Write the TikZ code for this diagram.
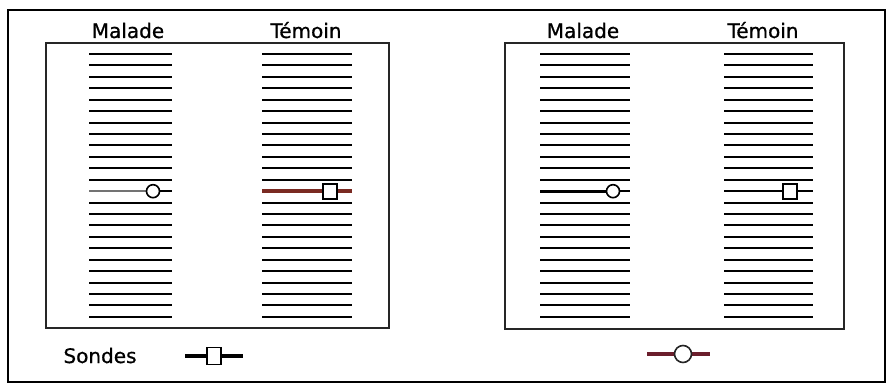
\documentclass[tikz,border=0pt]{standalone}
\usepackage{fontspec}
\setmainfont{DejaVu Sans}
\newfontfamily\lblfont[FakeBold=0.8]{DejaVu Sans}
\definecolor{probered}{HTML}{7A2A22}
\definecolor{legred}{HTML}{6B1E2C}
\tikzset{
  band/.style={line width=2pt, black},
  panel/.style={line width=2pt, draw=black!85},
  frame/.style={line width=2.6pt, draw=black},
  lbl/.style={font=\lblfont\fontsize{20}{22}\selectfont, inner sep=0pt, anchor=base},
  sq/.style={draw=black, line width=1.6pt, fill=white, minimum width=14pt, minimum height=15pt, inner sep=0pt},
  circ/.style={circle, draw=black, line width=1.6pt, fill=white, minimum size=13pt, inner sep=0pt}
}
\begin{document}
\begin{tikzpicture}[x=1pt,y=-1pt]
\useasboundingbox (0,0) rectangle (889,385);
% outer frame
\draw[frame] (8,10) rectangle (885,382);
% panels
\draw[panel] (46,43) rectangle (389,328);
\draw[panel] (505,43) rectangle (844,329);
% labels
\node[lbl] (m1) at (128,38) {Malade};
\node[lbl] (t1) at (306,38) {Témoin};
\node[lbl] (m2) at (583,38) {Malade};
\node[lbl] (t2) at (763,38) {Témoin};
\node[lbl] (so) at (100,363) {Sondes};
% bands
\foreach \xa/\xb in {89/172, 262/352, 540/630, 724/813} {
  \foreach \i in {0,...,23} {
    \ifnum\i=12\else
      \pgfmathsetmacro\yy{54+\i*11.43}
      \draw[band] (\xa,\yy) -- (\xb,\yy);
    \fi
  }
}
% probe row, left panel, Malade
\draw[line width=1.5pt, black!55] (89,191.2) -- (146,191.2);
\draw[line width=2pt] (160,191.2) -- (172,191.2);
\node[circ] (c1) at (153,191.2) {};
% probe row, left panel, Témoin
\draw[line width=3.6pt, probered] (262,191.2) -- (352,191.2);
\node[sq] (s1) at (330,191.2) {};
% probe row, right panel, Malade
\draw[line width=3.4pt, black] (540,191.2) -- (606,191.2);
\draw[line width=2pt] (620,191.2) -- (630,191.2);
\node[circ] (c2) at (613,191.2) {};
% probe row, right panel, Témoin
\draw[line width=1.8pt, black] (724,191.2) -- (813,191.2);
\node[sq] (s2) at (790,191.2) {};
% legend probes
\draw[line width=4pt, black] (185,356) -- (243,356);
\node[sq, minimum width=14pt, minimum height=17pt] (ls) at (214,356) {};
\draw[line width=4pt, legred] (647,354) -- (710,354);
\node[circ, minimum size=17pt, draw=black!85] (lc) at (683,354) {};
\end{tikzpicture}
\end{document}
